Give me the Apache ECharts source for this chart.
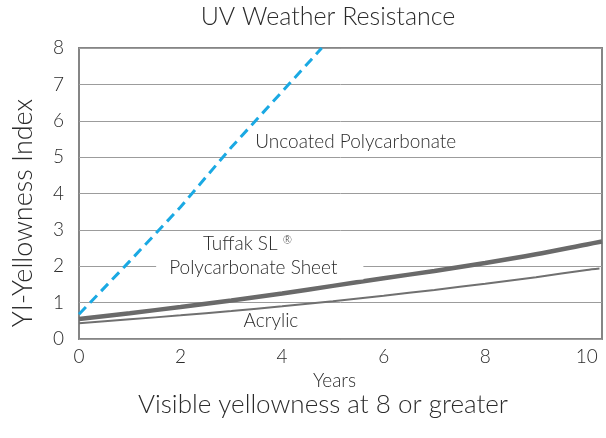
<!DOCTYPE html>
<html>
<head>
<meta charset="utf-8">
<script src="https://cdn.jsdelivr.net/npm/echarts@6/dist/echarts.min.js"></script>
<style>
html,body{margin:0;padding:0;background:#fff;}
#c{width:606px;height:438px;}
</style>
</head>
<body>
<div id="c"></div>
<script>
// ---- data ----
var years        = [0, 1, 2, 3, 4, 5, 6, 7, 8, 9, 10, 10.3];
var tuffak       = [0.55, 0.71, 0.88, 1.06, 1.25, 1.46, 1.67, 1.87, 2.09, 2.33, 2.60, 2.68];
var acrylicYears = [0, 1, 2, 3, 4, 5, 6, 7, 8, 9, 10, 10.25];
var acrylic      = [0.43, 0.54, 0.65, 0.77, 0.90, 1.04, 1.19, 1.35, 1.52, 1.70, 1.90, 1.94];
var uncoatedYears = [0, 1, 2, 3, 4, 4.78];
var uncoated      = [0.68, 2.14, 3.63, 5.27, 6.80, 8.0];
var xTickStep = 2;
var yTickStep = 1;

// label anchor points (data space)
var labelUncoated = [5.45, 5.42];
var labelTuffak1  = [3.32, 2.61];
var labelTuffak2  = [3.56, 1.95];
var labelAcrylic  = [3.78, 0.49];

function pairs(xs, ys){ return xs.map(function(x,i){ return [x, ys[i]]; }); }

var FONT = 'Lato, "Open Sans", sans-serif';
var TXT = '#2b2b2b';

var chart = echarts.init(document.getElementById('c'), null, {renderer:'canvas'});
chart.setOption({
  animation: false,
  backgroundColor: '#fff',
  textStyle: {fontFamily: FONT},
  grid: {left: 79, right: 4, top: 48, bottom: 99, show: true,
         borderColor: '#858585', borderWidth: 2, backgroundColor: 'transparent'},
  graphic: [
    {type: 'text', x: 328, y: 17, style: {text: 'UV Weather Resistance', font: '300 25px ' + FONT,
      fill: TXT, textAlign: 'center', textVerticalAlign: 'middle'}},
    {type: 'text', x: 323, y: 405, style: {text: 'Visible yellowness at 8 or greater', font: '300 26px ' + FONT,
      fill: TXT, textAlign: 'center', textVerticalAlign: 'middle'}},
    {type: 'text', x: 23, y: 213, rotation: Math.PI/2, style: {text: 'YI-Yellowness Index', font: '300 27px ' + FONT,
      fill: TXT, textAlign: 'center', textVerticalAlign: 'middle'}}
  ],
  xAxis: {
    type: 'value', min: 0, max: 10.3, interval: xTickStep,
    name: 'Years', nameLocation: 'middle', nameGap: 30,
    nameTextStyle: {fontSize: 19, fontWeight: 300, color: TXT, fontFamily: FONT, padding: [0, 12, 0, 0]},
    axisLine: {show: false}, axisTick: {show: false}, splitLine: {show: false},
    axisLabel: {fontSize: 19, fontWeight: 300, color: TXT, margin: 8, fontFamily: FONT,
      formatter: function(v){ return (Math.abs(v % xTickStep) < 1e-9) ? String(v) : ''; }}
  },
  yAxis: {
    type: 'value', min: 0, max: 8, interval: yTickStep,
    axisLine: {show: false}, axisTick: {show: false},
    splitLine: {show: true, lineStyle: {color: '#9c9c9c', width: 1}},
    axisLabel: {fontSize: 19, fontWeight: 300, color: TXT, margin: 15, fontFamily: FONT}
  },
  series: [
    {
      name: 'Acrylic', type: 'line', data: pairs(acrylicYears, acrylic),
      smooth: 0.3, symbol: 'none', lineStyle: {color: '#707070', width: 2}, z: 3,
      markPoint: {
        symbol: 'circle', symbolSize: 0, silent: true,
        label: {show: true, position: 'inside', color: TXT, fontSize: 19, fontWeight: 300, fontFamily: FONT},
        data: [
          {coord: labelAcrylic, value: 'Acrylic', label: {formatter: 'Acrylic'}},
          {coord: labelUncoated, value: 'u', label: {formatter: 'Uncoated Polycarbonate'}},
          {coord: labelTuffak1, value: 't', label: {formatter: 'Tuffak SL {sup|®}',
            rich: {sup: {fontSize: 11, verticalAlign: 'top', color: TXT, padding: [0,0,8,0]}}}},
          {coord: labelTuffak2, value: 'p', label: {formatter: 'Polycarbonate Sheet',
            backgroundColor: '#fff', padding: [2, 26, 2, 13]}}
        ]
      }
    },
    {
      name: 'Tuffak SL', type: 'line', data: pairs(years, tuffak),
      smooth: 0.3, symbol: 'none', lineStyle: {color: '#6a6a6a', width: 4.5}, z: 4
    },
    {
      name: 'Uncoated Polycarbonate', type: 'line', data: pairs(uncoatedYears, uncoated),
      symbol: 'none', lineStyle: {color: '#1aa9e3', width: 3, type: [10, 6]}, z: 5
    }
  ]
});
</script>
</body>
</html>
